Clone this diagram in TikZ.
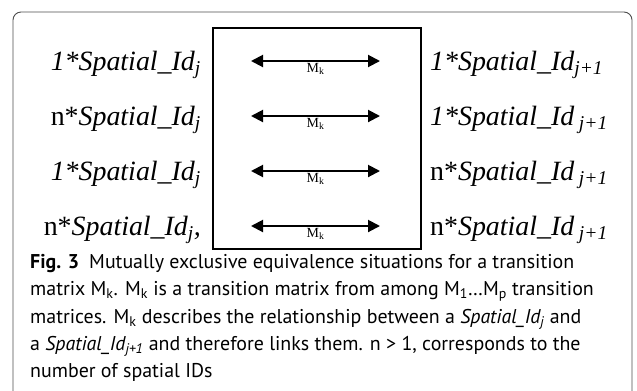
\documentclass[tikz,border=0pt]{standalone}
\usepackage{fontspec}
\setmainfont{Liberation Serif}
\newfontfamily\capfont{PT Sans}
\usetikzlibrary{arrows.meta}

\begin{document}
\begin{tikzpicture}[x=1bp, y=-1bp,
  idtext/.style={font=\fontsize{28}{30}\selectfont, inner sep=0pt},
  mlink/.style={line width=2bp, {Triangle[length=12bp,width=12bp]}-{Triangle[length=12bp,width=12bp]}},
  mlabel/.style={font=\fontsize{14}{16}\selectfont, inner sep=1pt}]
\useasboundingbox (0,0) rectangle (637,390);
% outer frame, open at the bottom
\draw[black!70, line width=0.9bp, rounded corners=8bp] (13,400) -- (13,12) -- (632,12) -- (632,400);
% transition matrix box
\node[draw, line width=2bp, minimum width=208bp, minimum height=221bp, anchor=north west, inner sep=0pt] (mbox) at (212,27) {};
\foreach \y/\ltxt/\rtxt [count=\i] in {
  61/{\textit{1*Spatial\_Id\textsubscript{j}}}/{\textit{1*Spatial\_Id\textsubscript{j+1}}},
  116/{n*\textit{Spatial\_Id\textsubscript{j}}}/{\textit{1*Spatial\_Id\,\textsubscript{j+1}}},
  171/{\textit{1*Spatial\_Id\textsubscript{j}}}/{n*\textit{Spatial\_Id\,\textsubscript{j+1}}},
  226/{n*\textit{Spatial\_Id\textsubscript{j},}}/{n*\textit{Spatial\_Id\,\textsubscript{j+1}}}} {
  \node[idtext, anchor=base east] (lid\i) at (201,\y+9.5) {\ltxt};
  \node[idtext, anchor=base west] (rid\i) at (430,\y+9.5) {\rtxt};
  \coordinate (mleft\i) at (251,\y);
  \coordinate (mright\i) at (380,\y);
  \draw[mlink] (mleft\i) -- (mright\i) node[mlabel, midway, below] {M\textsubscript{k}};
}
% caption
\node[anchor=north west, inner sep=0pt, align=left, font=\capfont\fontsize{20}{27.5}\selectfont] (caption) at (30,254) {
\textbf{Fig. 3}\enspace Mutually exclusive equivalence situations for a transition\\
matrix M\textsubscript{k}. M\textsubscript{k} is a transition matrix from among M\textsubscript{1}\ldots M\textsubscript{p} transition\\
matrices. M\textsubscript{k} describes the relationship between a \textit{Spatial\_Id\textsubscript{j}} and\\
a \textit{Spatial\_Id\textsubscript{j+1}} and therefore links them. n {>} 1, corresponds to the\\
number of spatial IDs};
\end{tikzpicture}
\end{document}
